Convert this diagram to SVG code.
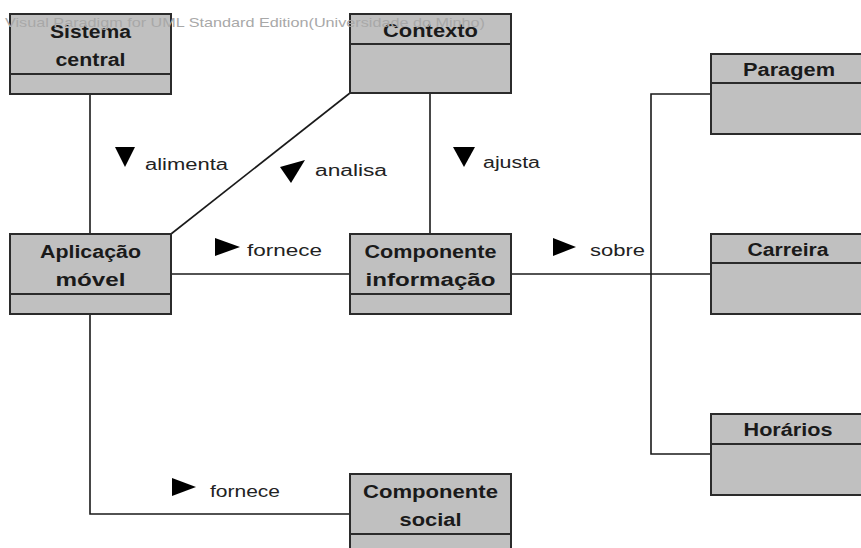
<svg xmlns="http://www.w3.org/2000/svg" width="861" height="548" viewBox="0 0 861 548">
  <style>
    .box { fill: #c0c0c0; stroke: #2b2b2b; stroke-width: 2; }
    .sep { stroke: #2b2b2b; stroke-width: 2; }
    .title { font-family: "Liberation Sans", Arial, sans-serif; font-weight: bold; font-size: 18px; fill: #1a1a1a; text-anchor: middle; }
    .conn { fill: none; stroke: #1a1a1a; stroke-width: 1.6; }
    .lbl { font-family: "Liberation Sans", Arial, sans-serif; font-size: 16px; fill: #222; }
    .dir { fill: #000; }
    .wm { font-family: "Liberation Sans", Arial, sans-serif; font-size: 13px; fill: #a8a8a8; }
  </style>
  <rect width="861" height="548" fill="#fff"/>

  <!-- associations -->
  <g id="connectors">
    <path class="conn" d="M90,94 V234"/>
    <path class="conn" d="M350,93 L171,234"/>
    <path class="conn" d="M430,93 V234"/>
    <path class="conn" d="M171,274 H350"/>
    <path class="conn" d="M511,274 H711"/>
    <path class="conn" d="M711,94 H651 V454 H711"/>
    <path class="conn" d="M90,314 V514 H350"/>

    <polygon class="dir" points="115,147 135,147 125,167"/>
    <text class="lbl" x="145" y="170" textLength="83" lengthAdjust="spacingAndGlyphs">alimenta</text>

    <polygon class="dir" points="280,167 305,160 291,183"/>
    <text class="lbl" x="315" y="176" textLength="72" lengthAdjust="spacingAndGlyphs">analisa</text>

    <polygon class="dir" points="453,147 475,147 464,167"/>
    <text class="lbl" x="483" y="168" textLength="57" lengthAdjust="spacingAndGlyphs">ajusta</text>

    <polygon class="dir" points="215,238 240,247 215,256"/>
    <text class="lbl" x="247" y="256" textLength="75" lengthAdjust="spacingAndGlyphs">fornece</text>

    <polygon class="dir" points="553,238 576,247 553,256"/>
    <text class="lbl" x="590" y="256" textLength="55" lengthAdjust="spacingAndGlyphs">sobre</text>

    <polygon class="dir" points="172,478 196,487 172,496"/>
    <text class="lbl" x="210" y="497" textLength="70" lengthAdjust="spacingAndGlyphs">fornece</text>
  </g>

  <!-- classes -->
  <g id="sistema-central">
    <rect class="box" x="10" y="14" width="161" height="80"/>
    <line class="sep" x1="10" y1="74" x2="171" y2="74"/>
    <text class="title" x="90.5" y="38" textLength="81" lengthAdjust="spacingAndGlyphs">Sistema</text>
    <text class="title" x="90.5" y="66" textLength="70" lengthAdjust="spacingAndGlyphs">central</text>
  </g>

  <g id="contexto">
    <rect class="box" x="350" y="14" width="161" height="79"/>
    <line class="sep" x1="350" y1="44" x2="511" y2="44"/>
    <text class="title" x="430.5" y="37" textLength="95" lengthAdjust="spacingAndGlyphs">Contexto</text>
  </g>

  <g id="aplicacao-movel">
    <rect class="box" x="10" y="234" width="161" height="80"/>
    <line class="sep" x1="10" y1="294" x2="171" y2="294"/>
    <text class="title" x="90.5" y="258" textLength="101" lengthAdjust="spacingAndGlyphs">Aplicação</text>
    <text class="title" x="90.5" y="286" textLength="70" lengthAdjust="spacingAndGlyphs">móvel</text>
  </g>

  <g id="componente-informacao">
    <rect class="box" x="350" y="234" width="161" height="80"/>
    <line class="sep" x1="350" y1="294" x2="511" y2="294"/>
    <text class="title" x="430.5" y="258" textLength="132" lengthAdjust="spacingAndGlyphs">Componente</text>
    <text class="title" x="430.5" y="286" textLength="130" lengthAdjust="spacingAndGlyphs">informação</text>
  </g>

  <g id="componente-social">
    <rect class="box" x="350" y="474" width="161" height="90"/>
    <line class="sep" x1="350" y1="534" x2="511" y2="534"/>
    <text class="title" x="430.5" y="498" textLength="135" lengthAdjust="spacingAndGlyphs">Componente</text>
    <text class="title" x="430.5" y="526" textLength="62" lengthAdjust="spacingAndGlyphs">social</text>
  </g>

  <g id="paragem">
    <rect class="box" x="711" y="54" width="159" height="80"/>
    <line class="sep" x1="711" y1="83" x2="870" y2="83"/>
    <text class="title" x="789" y="76" textLength="92" lengthAdjust="spacingAndGlyphs">Paragem</text>
  </g>

  <g id="carreira">
    <rect class="box" x="711" y="234" width="159" height="80"/>
    <line class="sep" x1="711" y1="263" x2="870" y2="263"/>
    <text class="title" x="788" y="256" textLength="81" lengthAdjust="spacingAndGlyphs">Carreira</text>
  </g>

  <g id="horarios">
    <rect class="box" x="711" y="414" width="159" height="81"/>
    <line class="sep" x1="711" y1="444" x2="870" y2="444"/>
    <text class="title" x="788" y="436" textLength="89" lengthAdjust="spacingAndGlyphs">Horários</text>
  </g>

  <!-- editor watermark along the top edge -->
  <text class="wm" x="5" y="27" textLength="480" lengthAdjust="spacingAndGlyphs">Visual Paradigm for UML Standard Edition(Universidade do Minho)</text>
</svg>
